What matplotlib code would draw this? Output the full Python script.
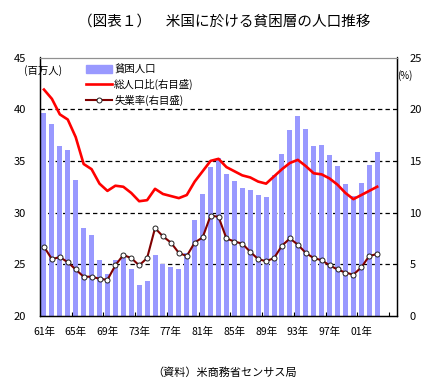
import matplotlib
matplotlib.use("Agg")
import matplotlib.pyplot as plt
from matplotlib.lines import Line2D
from matplotlib.patches import Patch
import numpy as np

plt.rcParams['font.family'] = ['Noto Sans CJK JP', 'DejaVu Sans']

years = list(range(1961, 2004))
poverty_pop = [39.6, 38.6, 36.4, 36.1, 33.2, 28.5, 27.8, 25.4, 24.1, 25.4,
               25.6, 24.5, 23.0, 23.4, 25.9, 25.0, 24.7, 24.5, 26.1, 29.3,
               31.8, 34.4, 35.3, 33.7, 33.1, 32.4, 32.2, 31.7, 31.5, 33.6,
               35.7, 38.0, 39.3, 38.1, 36.4, 36.5, 35.6, 34.5, 32.8, 31.6,
               32.9, 34.6, 35.9]
poverty_rate = [21.9, 21.0, 19.5, 19.0, 17.3, 14.7, 14.2, 12.8, 12.1, 12.6,
                12.5, 11.9, 11.1, 11.2, 12.3, 11.8, 11.6, 11.4, 11.7, 13.0,
                14.0, 15.0, 15.2, 14.4, 14.0, 13.6, 13.4, 13.0, 12.8, 13.5,
                14.2, 14.8, 15.1, 14.5, 13.8, 13.7, 13.3, 12.7, 11.9, 11.3,
                11.7, 12.1, 12.5]
unemployment = [6.7, 5.5, 5.7, 5.2, 4.5, 3.8, 3.8, 3.6, 3.5, 4.9,
                5.9, 5.6, 4.9, 5.6, 8.5, 7.7, 7.1, 6.1, 5.8, 7.1,
                7.6, 9.7, 9.6, 7.5, 7.2, 7.0, 6.2, 5.5, 5.3, 5.6,
                6.8, 7.5, 6.9, 6.1, 5.6, 5.4, 4.9, 4.5, 4.2, 4.0,
                4.7, 5.8, 6.0]
xtick_labels = ['61年', '65年', '69年', '73年', '77年', '81年', '85年',
                '89年', '93年', '97年', '01年']
left_ticks = [20, 25, 30, 35, 40, 45]
right_ticks = [0, 5, 10, 15, 20, 25]

W, H = 446, 384
fig = plt.figure(figsize=(W / 100, H / 100), dpi=100)
L, R, T, B = 40, 397, 57.5, 316
ax = fig.add_axes([L / W, 1 - B / H, (R - L) / W, (B - T) / H])
ax2 = ax.twinx()

x = np.arange(len(years))
ax.bar(x, poverty_pop, width=0.63, color='#9999FF', zorder=2)
ax.set_xlim(-0.5, 44.5)
ax.set_ylim(20, 45)
ax.set_yticks(left_ticks)
for v in left_ticks[1:-1]:
    ax.axhline(v, color='black', lw=0.9, ls=(0, (3.5, 2.5)), zorder=1)

ax2.set_ylim(0, 25)
ax2.set_yticks(right_ticks)
ax2.plot(x, poverty_rate, color='#FF0000', lw=1.9, zorder=3)
ax2.plot(x, unemployment, color='#800000', lw=1.5, marker='o', ms=3.6,
         mfc='white', mec='#202020', mew=0.7, zorder=4)

ax.set_xticks(x[::4])
ax.set_xticklabels(xtick_labels, fontsize=7.5)
ax.set_xticks(np.arange(3.5, 44, 4), minor=True)
ax.tick_params(axis='x', which='major', length=0, pad=8)
ax.tick_params(axis='x', which='minor', direction='in', length=3, width=0.8)
ax.tick_params(axis='y', length=0, pad=10, labelsize=8)
ax2.tick_params(axis='y', length=0, pad=9, labelsize=8)

for a in (ax, ax2):
    a.spines['top'].set_color('#909090')
    for s in ('left', 'right', 'bottom'):
        a.spines[s].set_color('black')
        a.spines[s].set_linewidth(0.9)

fig.text(43 / W, 1 - 71 / H, '(百万人)', fontsize=7.5, ha='center', va='center')
fig.text(405 / W, 1 - 76 / H, '(%)', fontsize=7, ha='center', va='center')

handles = [Patch(color='#9999FF'),
           Line2D([], [], color='#FF0000', lw=1.9),
           Line2D([], [], color='#800000', lw=1.5, marker='o', ms=3.6,
                  mfc='white', mec='#202020', mew=0.7)]
labels = ['貧困人口', '総人口比(右目盛)', '失業率(右目盛)']
leg = fig.legend(handles, labels, loc='upper left',
                 bbox_to_anchor=(86 / W, 1 - 64 / H), frameon=False,
                 fontsize=7.5, handlelength=2.5, handleheight=0.8,
                 handletextpad=0.2, labelspacing=0.45, borderpad=0,
                 borderaxespad=0)

fig.text(224 / W, 1 - 22 / H, '（図表１）　米国に於ける貧困層の人口推移',
         fontsize=10.5, ha='center', va='center')
fig.text(225 / W, 1 - 373 / H, '（資料）米商務省センサス局',
         fontsize=8, ha='center', va='center')

fig.savefig('out.png', dpi=100)
